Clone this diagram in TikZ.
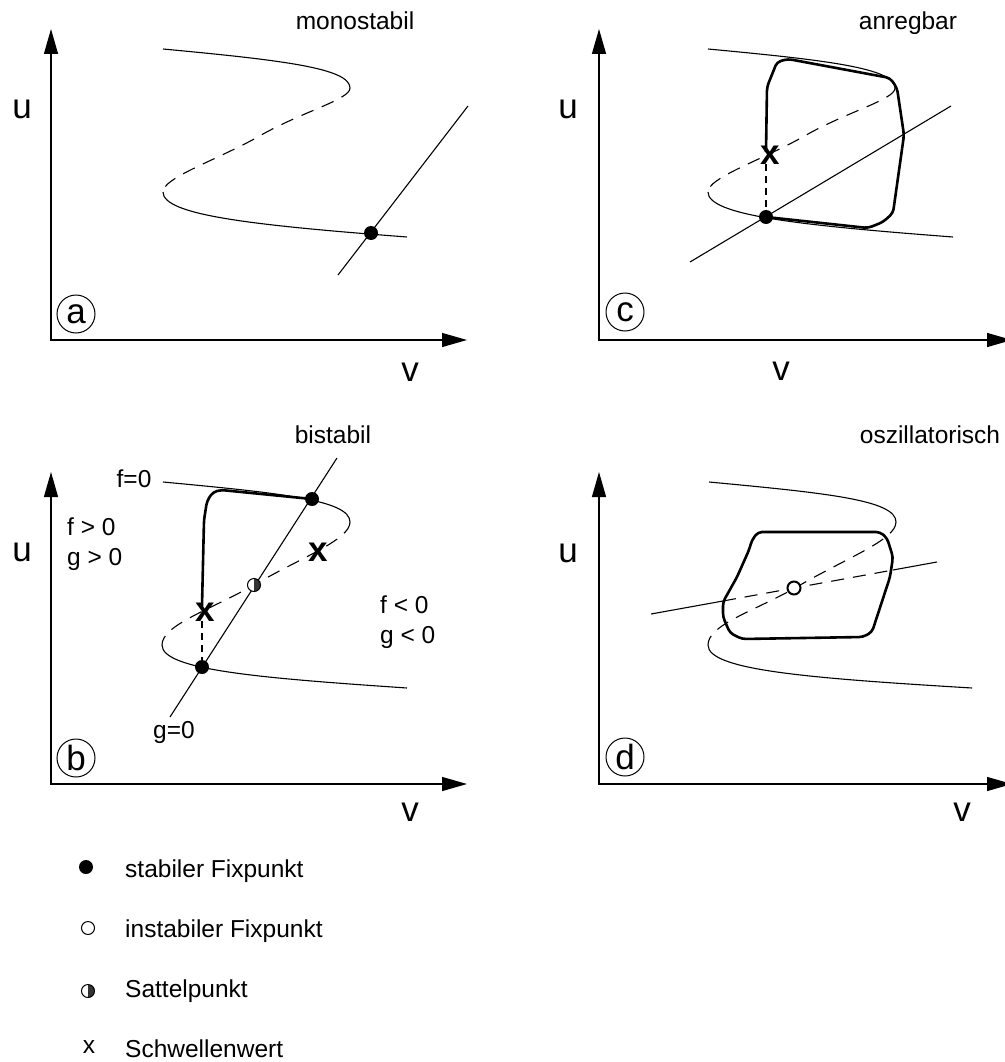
\documentclass[tikz,border=0pt]{standalone}
\usepackage{fontspec}
\setmainfont{Liberation Sans}
\usetikzlibrary{arrows.meta}

\newcommand{\txtklein}{\fontsize{24.5}{30}\selectfont}
\newcommand{\txtgross}{\fontsize{35}{42}\selectfont}

\begin{document}
\begin{tikzpicture}[x=1pt, y=-1pt,
    achse/.style={line width=1.3pt, {Triangle[length=25pt,width=14pt]}-{Triangle[length=25pt,width=14pt]}},
    kurve/.style={line width=1.1pt},
    gestrichelt/.style={line width=1.1pt, dash pattern=on 13pt off 9pt},
    lot/.style={line width=1.1pt, dash pattern=on 7pt off 5pt},
    zyklus/.style={line width=2.6pt, rounded corners=4pt, line join=round},
    stabil/.style={circle, fill=black, inner sep=0pt, minimum size=14pt},
    offen/.style={circle, draw, fill=white, inner sep=0pt, minimum size=13pt, line width=1pt},
    sattel/.style={offen, path picture={\fill[black!80] (path picture bounding box.north) rectangle (path picture bounding box.south east);}},
    schwelle/.style={font=\txtgross\bfseries, inner sep=0pt},
    panel/.style={circle, draw, line width=1pt, inner sep=0pt, minimum size=38pt, font=\txtgross},
    achsname/.style={font=\txtgross, inner sep=0pt},
    txt/.style={font=\txtklein, inner sep=0pt}]
    \useasboundingbox (0,0) rectangle (1004,1062);

    % (a) monostabil
    \draw[achse] (51,29) -- (51,340) -- (467,340);
    \node[achsname] (ua) at (22,109) {u};
    \node[achsname] (va) at (410,372) {v};
    \node[panel] (pa) at (76,314) {a};
    \node[txt, anchor=base] (ta) at (355,30) {monostabil};
    \draw[kurve] (163,49) .. controls (280,60) and (350,68) .. (350,88);
    \draw[gestrichelt] (350,88) .. controls (350,100) and (300,112) .. (256,138) .. controls (212,162) and (163,178) .. (163,192);
    \draw[kurve] (163,192) .. controls (163,215) and (250,225) .. (407,237);
    \draw[kurve] (338,275) -- (468,106);
    \node[stabil] (sa) at (371,233) {};

    % (c) anregbar
    \draw[achse] (599,29) -- (599,340) -- (1012,340);
    \node[achsname] (uc) at (568,109) {u};
    \node[achsname] (vc) at (781,371) {v};
    \node[panel] (pc) at (625,312) {c};
    \node[txt, anchor=base] (tc) at (908,30) {anregbar};
    \draw[kurve] (708,49) .. controls (825,60) and (895,68) .. (895,88);
    \draw[gestrichelt] (895,88) .. controls (895,100) and (845,112) .. (801,138) .. controls (757,162) and (708,178) .. (708,192);
    \draw[kurve] (708,192) .. controls (708,215) and (795,225) .. (953,237);
    \draw[kurve] (690,262) -- (951,106);
    \draw[zyklus] (766,152) -- (767,87) -- (777,62) -- (788,59) -- (890,78) -- (897,88)
        -- (904,135) -- (893,213) -- (883,222) -- (868,228) -- (766,217);
    \node[schwelle] (xc) at (770,155) {x};
    \node[stabil] (sc) at (766,217) {};
    \draw[lot] (sc |- xc.south) -- (sc);

    % (b) bistabil
    \draw[achse] (51,472) -- (51,784) -- (467,784);
    \node[achsname] (ub) at (22,552) {u};
    \node[achsname] (vb) at (410,812) {v};
    \node[panel] (pb) at (76,758) {b};
    \node[txt, anchor=base] (tb) at (333,443) {bistabil};
    \node[txt, anchor=base] (f0) at (134,487) {f=0};
    \node[txt, anchor=base] (g0) at (174,738) {g=0};
    \node[txt, anchor=base west] (fp) at (67,535) {f > 0};
    \node[txt, anchor=base west] (gp) at (67,565) {g > 0};
    \node[txt, anchor=base west] (fn) at (380,613) {f < 0};
    \node[txt, anchor=base west] (gn) at (380,643) {g < 0};
    \draw[kurve] (163,482) .. controls (280,493) and (350,500) .. (350,522);
    \draw[gestrichelt] (350,522) .. controls (350,540) and (300,558) .. (254,585) .. controls (210,610) and (162,625) .. (162,645);
    \draw[kurve] (162,645) .. controls (162,670) and (260,678) .. (407,688);
    \draw[kurve] (170,717) -- (337,458);
    \draw[zyklus] (202,606) -- (204,520) -- (207,501) -- (213,492) -- (221,490) -- (312,499);
    \node[schwelle] (xb1) at (205,612) {x};
    \node[schwelle] (xb2) at (318,552) {x};
    \node[stabil] (sb1) at (202,667) {};
    \node[stabil] (sb2) at (312,499) {};
    \node[sattel] (sp) at (254,585) {};
    \draw[lot] (sb1 |- xb1.south) -- (sb1);

    % (d) oszillatorisch
    \draw[achse] (599,472) -- (599,784) -- (1012,784);
    \node[achsname] (ud) at (568,553) {u};
    \node[achsname] (vd) at (962,812) {v};
    \node[panel] (pd) at (625,757) {d};
    \node[txt, anchor=base] (td) at (930,443) {oszillatorisch};
    \draw[kurve] (709,482) .. controls (826,493) and (896,500) .. (896,522);
    \draw[gestrichelt] (896,522) .. controls (896,540) and (846,558) .. (795,588) .. controls (752,612) and (708,625) .. (708,645);
    \draw[kurve] (708,645) .. controls (708,670) and (806,678) .. (972,688);
    \draw[kurve] (651,614) -- (723,601);
    \draw[gestrichelt] (723,601) -- (893,570);
    \draw[kurve] (893,570) -- (937,562);
    \draw[zyklus] (758,532) -- (880,532) -- (887,538) -- (893,557) -- (890,577) -- (872,632)
        -- (863,637) -- (742,639) -- (730,633) -- (723,617) -- (723,602) -- (737,577)
        -- (749,550) -- (752,540) -- cycle;
    \node[offen, line width=2pt] (ud0) at (794,588) {};

    % Legende
    \node[stabil] (l1) at (86,867) {};
    \node[offen] (l2) at (88,928) {};
    \node[sattel] (l3) at (88,991) {};
    \node[txt] (l4) at (89,1047) {x};
    \node[txt, anchor=base west] (t1) at (125,877) {stabiler Fixpunkt};
    \node[txt, anchor=base west] (t2) at (125,937) {instabiler Fixpunkt};
    \node[txt, anchor=base west] (t3) at (125,997) {Sattelpunkt};
    \node[txt, anchor=base west] (t4) at (125,1057) {Schwellenwert};
\end{tikzpicture}
\end{document}
